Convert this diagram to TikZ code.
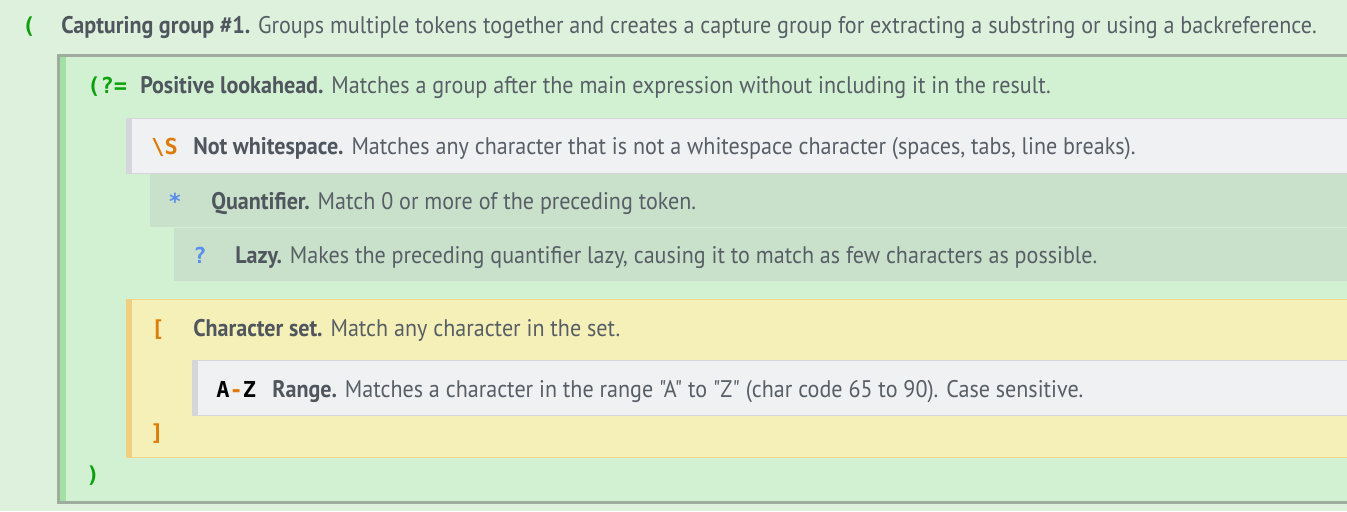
\documentclass[tikz,border=0pt]{standalone}
\usepackage{fontspec}
\setmainfont{PT Sans}[FakeStretch=0.92,Ligatures=TeXOff]
\newfontfamily\codefont{DejaVu Sans Mono}
\definecolor{pagebg}{RGB}{221,241,221}
\definecolor{grpfill}{RGB}{210,241,210}
\definecolor{grpedge}{RGB}{158,172,158}
\definecolor{grpstrip}{RGB}{163,224,163}
\definecolor{plainfill}{RGB}{240,241,243}
\definecolor{plainedge}{RGB}{213,214,219}
\definecolor{quantfill}{RGB}{201,225,203}
\definecolor{quantedge}{RGB}{214,236,214}
\definecolor{setfill}{RGB}{245,240,183}
\definecolor{setstrip}{RGB}{240,208,128}
\definecolor{setedge}{RGB}{240,215,140}
\definecolor{desc}{RGB}{88,94,102}
\definecolor{title}{RGB}{80,86,94}
\definecolor{tokgreen}{RGB}{10,163,10}
\definecolor{tokorange}{RGB}{224,123,0}
\definecolor{tokblue}{RGB}{91,140,240}
\begin{document}
\begin{tikzpicture}[x=0.75pt,y=-0.75pt,
    txt/.style={anchor=base west,inner sep=0pt,text=desc,
      font=\fontsize{18}{20}\selectfont},
    tok/.style={anchor=base west,inner sep=0pt,
      font=\codefont\bfseries\fontsize{16.5}{20}\selectfont}]
  \useasboundingbox (0,0) rectangle (1347,511);
  \fill[pagebg] (0,0) rectangle (1347,511);
  % lookahead box
  \fill[grpedge] (57,54) rectangle (1347,503.5);
  \fill[grpfill] (60,57) rectangle (1347,500.5);
  \fill[grpstrip] (60,57) rectangle (66,500.5);
  % \S
  \fill[plainfill,draw=plainedge] (126,118) rectangle (1348,173);
  \fill[plainedge] (126,118) rectangle (132,173);
  % quantifiers
  \fill[quantfill] (150,173.5) rectangle (1347,227);
  \fill[quantfill] (174,227) rectangle (1347,281);
  \draw[quantedge] (174,227.5) -- (1347,227.5);
  % character set
  \fill[setfill,draw=setedge] (126,299) rectangle (1348,457.5);
  \fill[setstrip] (126,299) rectangle (132,457.5);
  \fill[plainfill,draw=plainedge] (192,360) rectangle (1348,415.5);
  \fill[plainedge] (192,360) rectangle (198,415.5);

  \node[tok,text=tokgreen] (grpopen) at (22,33) {(};
  \node[txt] (grpdesc) at (61,33) {\textcolor{title}{\bfseries Capturing group \#1.} Groups multiple tokens together and creates a capture group for extracting a substring or using a backreference.};
  \node[tok,text=tokgreen] (lookopen) at (87,93) {(?=};
  \node[txt] (lookdesc) at (140,93) {\textcolor{title}{\bfseries Positive lookahead.} Matches a group after the main expression without including it in the result.};
  \node[tok,text=tokorange] (nows) at (151,154) {\textbackslash S};
  \node[txt] (nowsdesc) at (193,154) {\textcolor{title}{\bfseries Not whitespace.} Matches any character that is not a whitespace character (spaces, tabs, line breaks).};
  \node[tok,text=tokblue] (star) at (168,209) {*};
  \node[txt] (stardesc) at (211,209) {\textcolor{title}{\bfseries Quantifier.} Match 0 or more of the preceding token.};
  \node[tok,text=tokblue] (lazy) at (193,263) {?};
  \node[txt] (lazydesc) at (235,263) {\textcolor{title}{\bfseries Lazy.} Makes the preceding quantifier lazy, causing it to match as few characters as possible.};
  \node[tok,text=tokorange] (setopen) at (151,336) {[};
  \node[txt] (setdesc) at (193,336) {\textcolor{title}{\bfseries Character set.} Match any character in the set.};
  \node[tok,text=black] (range) at (216,397) {A\textcolor{tokorange}{-}Z};
  \node[txt] (rangedesc) at (272,397) {\textcolor{title}{\bfseries Range.} Matches a character in the range "A" to "Z" (char code 65 to 90). Case sensitive.};
  \node[tok,text=tokorange] (setclose) at (150,440) {]};
  \node[tok,text=tokgreen] (lookclose) at (86,482) {)};
\end{tikzpicture}
\end{document}
